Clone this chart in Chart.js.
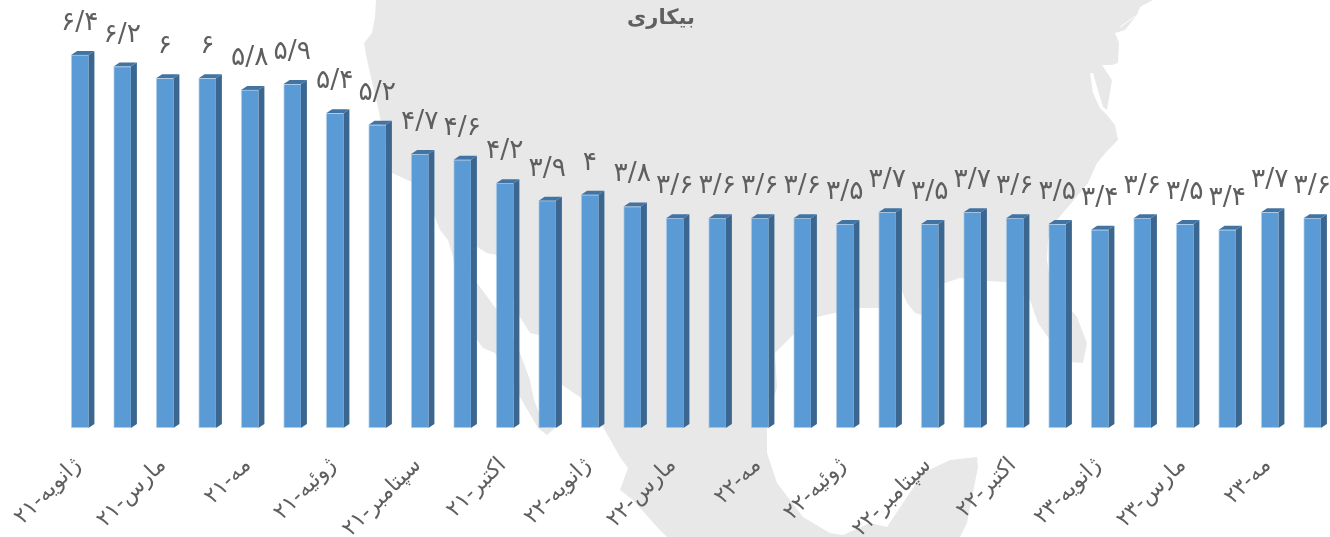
<!DOCTYPE html>
<html lang="fa">
<head>
<meta charset="utf-8">
<title>بیکاری</title>
<script src="https://cdn.jsdelivr.net/npm/chart.js@4/dist/chart.umd.min.js"></script>
<style>
html,body{margin:0;padding:0;background:#fff;overflow:hidden;width:1330px;height:537px}
#wrap{position:relative;width:1340px;height:537px}
#map{position:absolute;left:0;top:0}
#c{position:absolute;left:0;top:0}
</style>
</head>
<body>
<div id="wrap">
<svg id="map" width="1340" height="537" viewBox="0 0 1340 537">
<path fill="#e8e8e8" d="M376 0L1153 0L1140 7L1137 15L1125 30L1115 33L1119 43L1118 63L1112 65L1102 65L1112 80L1107 110L1103 107L1097 87L1093 73L1090 73L1093 93L1100 108L1107 115L1115 125L1118 140L1108 150L1097 163L1088 183L1068 207L1057 220L1048 240L1047 260L1050 280L1060 297L1077 317L1087 343L1083 363L1070 362L1050 340L1038 323L1030 300L1007 282L987 281L960 278L945 283L923 293L922 315L915 313L907 303L902 291L878 308L857 308L817 317L793 335L775 353L777 387L767 423L767 453L777 483L803 517L830 533L843 535L870 523L887 527L903 503L923 473L950 460L977 457L978 467L967 523L960 537L667 537L657 527L633 500L620 490L628 468L620 457L603 427L580 397L562 385L539 335L530 333L520 317L497 255L487 253L477 247L467 265L477 283L497 310L520 353L530 380L534 400L539 413L555 428L547 435L538 428L520 397L495 353L483 348L477 340L460 287L453 257L448 240L440 230L427 197L412 182L392 173L377 103L367 60L364 43L372 33L375 17Z"/>
<path fill="none" stroke="#ffffff" stroke-width="1" d="M1137 15L1120 27"/>
</svg>
<canvas id="c" width="1340" height="537"></canvas>
</div>
<script>
const titleText = 'بیکاری';
const categories = [
  'ژانویه-۲۱','فوریه-۲۱','مارس-۲۱','آوریل-۲۱','مه-۲۱','ژوئن-۲۱','ژوئیه-۲۱','اوت-۲۱','سپتامبر-۲۱','اکتبر-۲۱',
  'اکتبر-۲۱','دسامبر-۲۱','ژانویه-۲۲','فوریه-۲۲','مارس-۲۲','آوریل-۲۲','مه-۲۲','ژوئن-۲۲','ژوئیه-۲۲','اوت-۲۲',
  'سپتامبر-۲۲','اکتبر-۲۲','اکتبر-۲۲','دسامبر-۲۲','ژانویه-۲۳','فوریه-۲۳','مارس-۲۳','آوریل-۲۳','مه-۲۳','ژوئن-۲۳'
];
const unemployment = [6.4,6.2,6,6,5.8,5.9,5.4,5.2,4.7,4.6,4.2,3.9,4,3.8,3.6,3.6,3.6,3.6,3.5,3.7,3.5,3.7,3.6,3.5,3.4,3.6,3.5,3.4,3.7,3.6];

const FONT = '"DejaVu Sans", "Noto Sans", sans-serif';
const TEXT = '#5f5f5f';
const toFa = v => String(v).replace('.', '/').replace(/\d/g, d => '۰۱۲۳۴۵۶۷۸۹'[d]);

const depth3d = {
  id: 'depth3d',
  afterLayout(chart) {
    if (chart.titleBlock) { chart.titleBlock.left -= 35; chart.titleBlock.right -= 35; }
  },
  beforeDatasetsDraw(chart) {
    const ctx = chart.ctx, dx = 6, dy = 4;
    ctx.save();
    chart.getDatasetMeta(0).data.forEach(b => {
      const r = b.x + b.width / 2, l = b.x - b.width / 2;
      ctx.fillStyle = '#3a668f';
      ctx.beginPath();
      ctx.moveTo(r, b.y); ctx.lineTo(r + dx, b.y - dy); ctx.lineTo(r + dx, b.base - dy); ctx.lineTo(r, b.base);
      ctx.closePath(); ctx.fill();
      ctx.fillStyle = '#4173a3';
      ctx.beginPath();
      ctx.moveTo(l, b.y); ctx.lineTo(l + dx, b.y - dy); ctx.lineTo(r + dx, b.y - dy); ctx.lineTo(r, b.y);
      ctx.closePath(); ctx.fill();
    });
    ctx.restore();
  },
  afterDatasetsDraw(chart) {
    const ctx = chart.ctx;
    ctx.save();
    ctx.font = '26.5px ' + FONT;
    ctx.fillStyle = TEXT;
    ctx.textAlign = 'center';
    ctx.textBaseline = 'alphabetic';
    chart.getDatasetMeta(0).data.forEach((b, i) => {
      ctx.fillText(toFa(unemployment[i]), b.x, b.y - 25);
    });
    ctx.restore();
  }
};

new Chart(document.getElementById('c'), {
  type: 'bar',
  data: {
    labels: categories,
    datasets: [{
      data: unemployment,
      backgroundColor: '#5b9bd5',
      borderColor: 'rgba(150,190,230,0.55)',
      borderWidth: 1,
      borderSkipped: 'right',
      barThickness: 17.3
    }]
  },
  plugins: [depth3d],
  options: {
    responsive: false,
    animation: false,
    layout: { padding: { left: 58.5, right: 6.5, top: 0, bottom: 0 } },
    plugins: {
      legend: { display: false },
      tooltip: { enabled: false },
      title: {
        display: true,
        text: titleText,
        color: TEXT,
        font: { family: FONT, size: 21, weight: 'bold', lineHeight: 1.2 },
        padding: { top: 6.4, bottom: 0 }
      }
    },
    scales: {
      y: { display: false, min: 0, max: 6.8 },
      x: {
        grid: { display: false, drawTicks: false },
        border: { display: false },
        afterFit(s) { s.height = 109; s.paddingLeft = 0; s.paddingRight = 0; },
        ticks: {
          autoSkip: false,
          minRotation: 45,
          maxRotation: 45,
          padding: 24.5,
          labelOffset: -2,
          color: TEXT,
          font: { family: FONT, size: 22 },
          callback(v, i) { return i % 2 ? '' : this.getLabelForValue(v); }
        }
      }
    }
  }
});
</script>
</body>
</html>
